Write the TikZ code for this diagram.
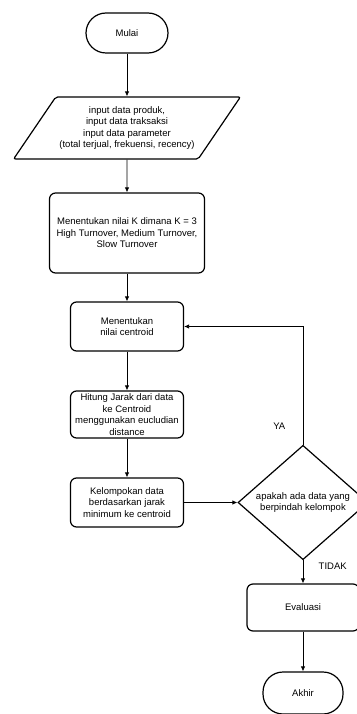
\documentclass[tikz,border=0pt]{standalone}
\usepackage{fontspec}
\setmainfont{Liberation Sans}
\usepackage{tikz}
\usetikzlibrary{arrows.meta,shapes.geometric}

\begin{document}
\begin{tikzpicture}[x=1pt,y=-1pt,
    font=\fontsize{9.5}{11.5}\selectfont,
    terminal/.style={draw, line width=1.2pt, rounded corners=20pt, minimum width=82pt, minimum height=40pt},
    proses/.style={draw, line width=1.2pt, rounded corners=6pt, align=center, inner sep=2pt},
    masukan/.style={draw, line width=1.2pt, trapezium, trapezium left angle=50, trapezium right angle=130,
      trapezium stretches=true, rounded corners=2pt, align=center},
    keputusan/.style={draw, line width=1.2pt, diamond, align=center, inner sep=0pt},
    panah/.style={-{Latex[length=5pt,width=4.5pt]}, line width=0.8pt}]
  \useasboundingbox (0,0) rectangle (356,714);

  % Kolom kiri
  \node[terminal] (mulai) at (127,33) {Mulai};
  \node[masukan, minimum width=227pt, minimum height=62pt] (input) at (127,128)
    {input data produk,\\ input data traksaksi\\ input data parameter\\ (total terjual, frekuensi, recency)};
  \node[proses, minimum width=155pt, minimum height=80pt] (nilaik) at (127,233)
    {Menentukan nilai K dimana K = 3\\ High Turnover, Medium Turnover,\\ Slow Turnover};
  \node[proses, minimum width=113pt, minimum height=49pt] (centroid) at (127,326.5)
    {Menentukan\\ nilai centroid};
  \node[proses, minimum width=113pt, minimum height=47pt] (jarak) at (127,414.5)
    {Hitung Jarak dari data\\ ke Centroid\\ menggunakan eucludian\\ distance};
  \node[proses, minimum width=113pt, minimum height=49pt] (kelompok) at (127,502.5)
    {Kelompokan data\\ berdasarkan jarak\\ minimum ke centroid};

  % Kolom kanan
  \node[keputusan, minimum width=130pt, minimum height=112pt] (cek) at (303,502.5)
    {apakah ada data yang\\ berpindah kelompok};
  \node[proses, minimum width=112pt, minimum height=47pt] (evaluasi) at (303,607.5) {Evaluasi};
  \node[terminal, minimum width=80pt, minimum height=42pt] (akhir) at (303,693) {Akhir};

  % Panah
  \draw[panah] (mulai) -- (input);
  \draw[panah] (input) -- (nilaik);
  \draw[panah] (nilaik) -- (centroid);
  \draw[panah] (centroid) -- (jarak);
  \draw[panah] (jarak) -- (kelompok);
  \draw[panah] (kelompok) -- (cek);
  \draw[panah] (cek.north) |- node[pos=0.08, left=14pt] {YA} (centroid.east);
  \draw[panah] (cek.south) -- node[pos=0.25, right=12pt] {TIDAK} (evaluasi);
  \draw[panah] (evaluasi) -- (akhir);
\end{tikzpicture}
\end{document}
